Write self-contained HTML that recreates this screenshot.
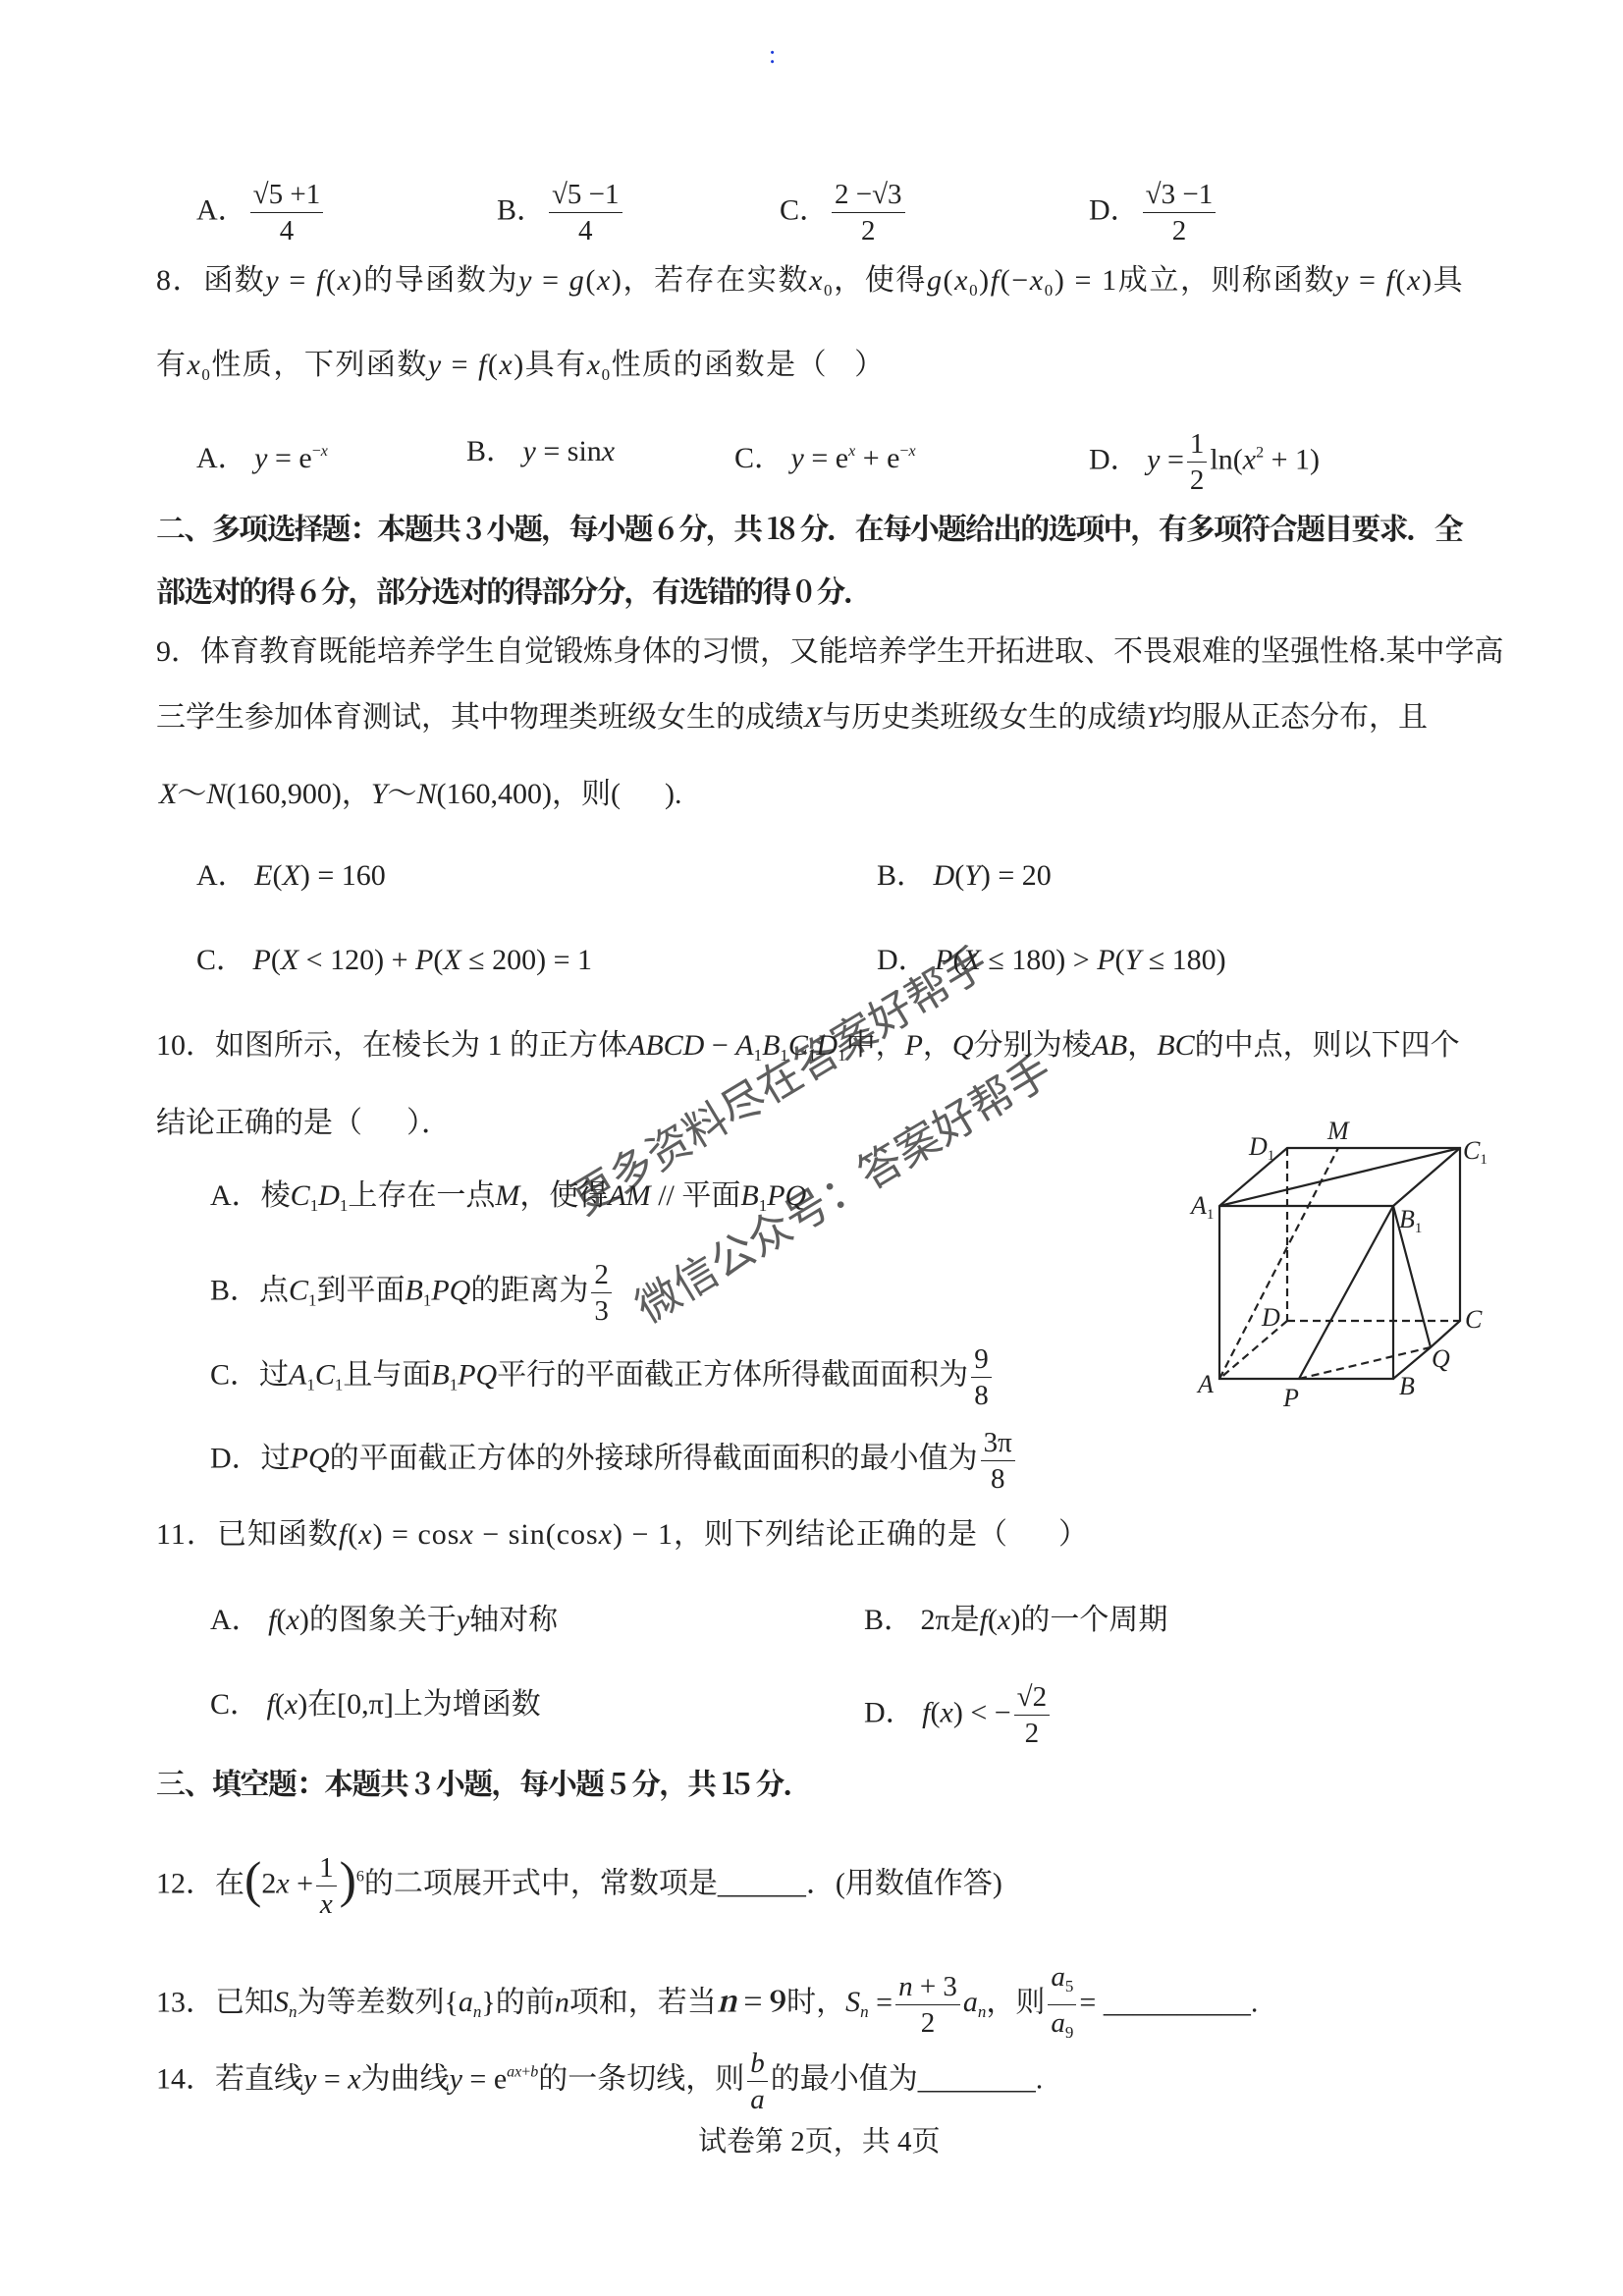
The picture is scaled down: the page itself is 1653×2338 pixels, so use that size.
<!DOCTYPE html>
<html><head><meta charset="utf-8">
<style>
html,body{margin:0;padding:0;background:#fff}
body{width:1653px;height:2338px;position:relative;overflow:hidden;font-family:"Liberation Serif","Noto Serif CJK SC","Noto Sans CJK SC",serif;color:#222;font-size:30px}
.l{position:absolute;white-space:nowrap;line-height:40px;height:40px}
i{font-style:italic}
.fr{display:inline-flex;flex-direction:column;align-items:center;vertical-align:middle;line-height:36px;font-size:29px;margin:0 3px}
.fr span:first-child{border-bottom:1.5px solid #222;padding:0 3px}
sub{font-size:17px;vertical-align:-6px}
sup{font-size:16px;vertical-align:12px}
b{font-family:"Noto Serif CJK SC","Noto Sans CJK SC",serif;font-weight:bold}
.wm{position:absolute;font-family:"Noto Sans CJK SC",sans-serif;font-size:44px;color:rgba(40,40,40,.75);transform-origin:left center;transform:rotate(-31deg);white-space:nowrap}
</style></head><body>
<div class="l" style="left:783px;top:36px;color:#1a3ad8;font-size:26px">:</div>

<div class="l" style="left:200px;top:180px">A．<span class="fr"><span>√5 +1</span><span>4</span></span></div>
<div class="l" style="left:506px;top:180px">B．<span class="fr"><span>√5 −1</span><span>4</span></span></div>
<div class="l" style="left:794px;top:180px">C．<span class="fr"><span>2 −√3</span><span>2</span></span></div>
<div class="l" style="left:1109px;top:180px">D．<span class="fr"><span>√3 −1</span><span>2</span></span></div>

<div class="l" style="left:159px;top:266px;letter-spacing:1.6px">8．函数<i>y</i> = <i>f</i>(<i>x</i>)的导函数为<i>y</i> = <i>g</i>(<i>x</i>)，若存在实数<i>x</i><sub>0</sub>，使得<i>g</i>(<i>x</i><sub>0</sub>)<i>f</i>(−<i>x</i><sub>0</sub>) = 1成立，则称函数<i>y</i> = <i>f</i>(<i>x</i>)具</div>
<div class="l" style="left:159px;top:352px;letter-spacing:1.5px">有<i>x</i><sub>0</sub>性质，下列函数<i>y</i> = <i>f</i>(<i>x</i>)具有<i>x</i><sub>0</sub>性质的函数是（&nbsp;&nbsp;&nbsp;）</div>
<div class="l" style="left:200px;top:440px">A．&nbsp;<i>y</i> = e<sup>−<i>x</i></sup></div>
<div class="l" style="left:475px;top:440px">B．&nbsp;<i>y</i> = sin<i>x</i></div>
<div class="l" style="left:748px;top:440px">C．&nbsp;<i>y</i> = e<sup><i>x</i></sup> + e<sup>−<i>x</i></sup></div>
<div class="l" style="left:1109px;top:434px">D．&nbsp;<i>y</i> =<span class="fr"><span>1</span><span>2</span></span>ln(<i>x</i><sup>2</sup> + 1)</div>

<div class="l" style="left:159px;top:516px;letter-spacing:-1.9px"><b>二、多项选择题：本题共 3 小题，每小题 6 分，共 18 分．在每小题给出的选项中，有多项符合题目要求．全</b></div>
<div class="l" style="left:159px;top:580px;letter-spacing:-1.9px"><b>部选对的得 6 分，部分选对的得部分分，有选错的得 0 分．</b></div>

<div class="l" style="left:159px;top:644px">9．体育教育既能培养学生自觉锻炼身体的习惯，又能培养学生开拓进取、不畏艰难的坚强性格.某中学高</div>
<div class="l" style="left:159px;top:711px">三学生参加体育测试，其中物理类班级女生的成绩<i>X</i>与历史类班级女生的成绩<i>Y</i>均服从正态分布，且</div>
<div class="l" style="left:162px;top:789px"><i>X</i>～<i>N</i>(160,900)，<i>Y</i>～<i>N</i>(160,400)，则(&nbsp;&nbsp;&nbsp;&nbsp;&nbsp;&nbsp;).</div>
<div class="l" style="left:200px;top:872px">A．&nbsp;<i>E</i>(<i>X</i>) = 160</div>
<div class="l" style="left:893px;top:872px">B．&nbsp;<i>D</i>(<i>Y</i>) = 20</div>
<div class="l" style="left:200px;top:958px">C．&nbsp;<i>P</i>(<i>X</i> &lt; 120) + <i>P</i>(<i>X</i> ≤ 200) = 1</div>
<div class="l" style="left:893px;top:958px">D．&nbsp;<i>P</i>(<i>X</i> ≤ 180) &gt; <i>P</i>(<i>Y</i> ≤ 180)</div>

<div class="l" style="left:159px;top:1045px">10．如图所示，在棱长为 1 的正方体<i>ABCD</i> − <i>A</i><sub>1</sub><i>B</i><sub>1</sub><i>C</i><sub>1</sub><i>D</i><sub>1</sub>中，<i>P</i>，<i>Q</i>分别为棱<i>AB</i>，<i>BC</i>的中点，则以下四个</div>
<div class="l" style="left:159px;top:1124px">结论正确的是（&nbsp;&nbsp;&nbsp;&nbsp;&nbsp;&nbsp;）．</div>
<div class="l" style="left:214px;top:1198px">A．棱<i>C</i><sub>1</sub><i>D</i><sub>1</sub>上存在一点<i>M</i>，使得<i>AM</i> // 平面<i>B</i><sub>1</sub><i>PQ</i></div>
<div class="l" style="left:214px;top:1280px">B．点<i>C</i><sub>1</sub>到平面<i>B</i><sub>1</sub><i>PQ</i>的距离为<span class="fr"><span>2</span><span>3</span></span></div>
<div class="l" style="left:214px;top:1366px">C．过<i>A</i><sub>1</sub><i>C</i><sub>1</sub>且与面<i>B</i><sub>1</sub><i>PQ</i>平行的平面截正方体所得截面面积为<span class="fr"><span>9</span><span>8</span></span></div>
<div class="l" style="left:214px;top:1451px">D．过<i>PQ</i>的平面截正方体的外接球所得截面面积的最小值为<span class="fr"><span>3π</span><span>8</span></span></div>

<svg style="position:absolute;left:0;top:0" width="1653" height="2338">
<g stroke="#222" stroke-width="2.2" fill="none">
<polyline points="1242,1228 1419,1228 1419,1404 1242,1404 1242,1228 1311,1169 1487,1169 1487,1345 1457,1372 1419,1404"/>
<line x1="1419" y1="1228" x2="1487" y2="1169"/>
<line x1="1242" y1="1228" x2="1487" y2="1169"/>
<line x1="1419" y1="1228" x2="1323" y2="1404"/>
<line x1="1419" y1="1228" x2="1457" y2="1372"/>
<g stroke-dasharray="8,5">
<line x1="1311" y1="1169" x2="1311" y2="1345"/>
<line x1="1311" y1="1345" x2="1487" y2="1345"/>
<line x1="1311" y1="1345" x2="1242" y2="1404"/>
<line x1="1242" y1="1404" x2="1363" y2="1169"/>
<line x1="1323" y1="1404" x2="1457" y2="1372"/>
</g></g>
<g font-family="Liberation Serif" font-style="italic" font-size="26" fill="#222">
<text x="1272" y="1176">D<tspan font-size="15" font-style="normal" dy="5">1</tspan></text>
<text x="1352" y="1160">M</text>
<text x="1490" y="1180">C<tspan font-size="15" font-style="normal" dy="5">1</tspan></text>
<text x="1213" y="1236">A<tspan font-size="15" font-style="normal" dy="5">1</tspan></text>
<text x="1425" y="1250">B<tspan font-size="15" font-style="normal" dy="5">1</tspan></text>
<text x="1285" y="1350">D</text>
<text x="1492" y="1352">C</text>
<text x="1220" y="1418">A</text>
<text x="1307" y="1432">P</text>
<text x="1425" y="1420">B</text>
<text x="1458" y="1392">Q</text>
</g></svg>

<div class="wm" style="left:585px;top:1190px">更多资料尽在答案好帮手</div>
<div class="wm" style="left:650px;top:1300px">微信公众号：答案好帮手</div>

<div class="l" style="left:159px;top:1543px;letter-spacing:1px">11．已知函数<i>f</i>(<i>x</i>) = cos<i>x</i> − sin(cos<i>x</i>) − 1，则下列结论正确的是（&nbsp;&nbsp;&nbsp;&nbsp;&nbsp;&nbsp;）</div>
<div class="l" style="left:214px;top:1630px">A．&nbsp;<i>f</i>(<i>x</i>)的图象关于<i>y</i>轴对称</div>
<div class="l" style="left:880px;top:1630px">B．&nbsp;2π是<i>f</i>(<i>x</i>)的一个周期</div>
<div class="l" style="left:214px;top:1716px">C．&nbsp;<i>f</i>(<i>x</i>)在[0,π]上为增函数</div>
<div class="l" style="left:880px;top:1710px">D．&nbsp;<i>f</i>(<i>x</i>) &lt; −<span class="fr"><span>√2</span><span>2</span></span></div>

<div class="l" style="left:159px;top:1794px;letter-spacing:-1.5px"><b>三、填空题：本题共 3 小题，每小题 5 分，共 15 分．</b></div>
<div class="l" style="left:159px;top:1884px">12．在<span style="font-size:52px;vertical-align:-4px">(</span>2<i>x</i> +<span class="fr"><span>1</span><span><i>x</i></span></span><span style="font-size:52px;vertical-align:-4px">)</span><sup>6</sup>的二项展开式中，常数项是______．(用数值作答)</div>
<div class="l" style="left:159px;top:1995px">13．已知<i>S<sub>n</sub></i>为等差数列{<i>a<sub>n</sub></i>}的前<i>n</i>项和，若当<b><i>n</i> = 9</b>时，<i>S<sub>n</sub></i> =<span class="fr"><span><i>n</i> + 3</span><span>2</span></span><i>a<sub>n</sub></i>，则<span class="fr"><span><i>a</i><sub>5</sub></span><span><i>a</i><sub>9</sub></span></span>= __________.</div>
<div class="l" style="left:159px;top:2083px">14．若直线<i>y</i> = <i>x</i>为曲线<i>y</i> = e<sup><i>ax</i>+<i>b</i></sup>的一条切线，则<span class="fr"><span><i>b</i></span><span><i>a</i></span></span>的最小值为________.</div>

<div class="l" style="left:711px;top:2161px;font-size:29px">试卷第 2页，共 4页</div>
</body></html>
